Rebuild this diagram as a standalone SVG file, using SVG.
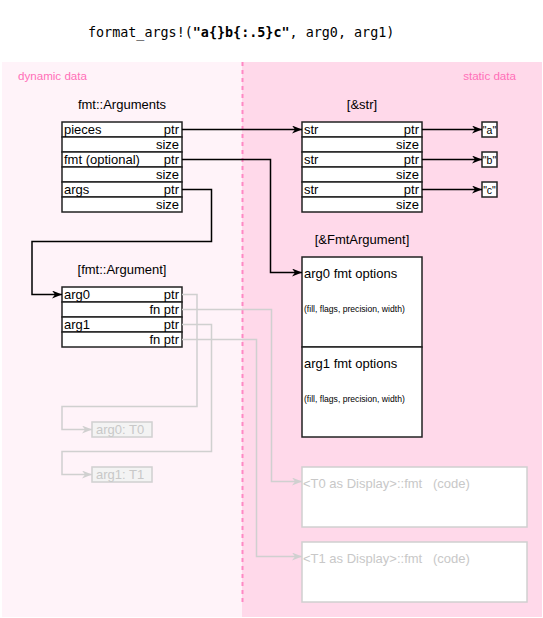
<svg xmlns="http://www.w3.org/2000/svg" width="543" height="618" viewBox="0 0 543 618">
<defs>
<style>
.t{font-family:"Liberation Sans",Arial,sans-serif;font-size:13px;fill:#000}
.r{text-anchor:end}
.c{text-anchor:middle}
.s{font-size:8.6px}
.q{font-size:10.5px}
.cell{fill:#fff;stroke:#222;stroke-width:1.5}
.g{font-family:"Liberation Sans",Arial,sans-serif;font-size:13px;fill:#c8c8c8}
.gbox{fill:#fff;stroke:#d0d0d0;stroke-width:1.5}
.gsm{fill:#f3f3f3;stroke:#d0d0d0;stroke-width:1.5}
.ln{fill:none;stroke:#000;stroke-width:1.5}
.gl{fill:none;stroke:#d0d0d0;stroke-width:1.5}
.mono{font-family:"DejaVu Sans Mono",monospace;font-size:13.4px;fill:#000}
.lab{font-family:"Liberation Sans",Arial,sans-serif;font-size:11.6px;fill:#ff6fb8}
</style>
<marker id="ab" markerUnits="userSpaceOnUse" markerWidth="12" markerHeight="10" refX="10" refY="4" orient="auto" viewBox="0 0 12 10"><path d="M0,0 L10,4 L0,8 L3,4 z" fill="#000"/></marker>
<marker id="ag" markerUnits="userSpaceOnUse" markerWidth="12" markerHeight="10" refX="10" refY="4" orient="auto" viewBox="0 0 12 10"><path d="M0,0 L10,4 L0,8 L3,4 z" fill="#d0d0d0"/></marker>
</defs>
<rect x="0" y="0" width="543" height="618" fill="#fff"/>
<g id="regions">
<rect x="2" y="62" width="240" height="555" fill="#fff3f9"/>
<rect x="242" y="62" width="300" height="555" fill="#ffd9ea"/>
<line x1="242.5" y1="62" x2="242.5" y2="603" stroke="#ff88c4" stroke-width="2" stroke-dasharray="4 4"/>
<text class="lab" x="18" y="80">dynamic data</text>
<text class="lab" x="516" y="80" text-anchor="end">static data</text>
</g>
<g id="title">
<text class="mono" x="88" y="37">format_args!(<tspan font-weight="bold">"a{}b{:.5}c"</tspan>, arg0, arg1)</text>
</g>
<g id="fmt-arguments">
<text class="t c" x="122" y="109">fmt::Arguments</text>
<rect class="cell" x="62" y="122" width="120" height="15"/>
<rect class="cell" x="62" y="137" width="120" height="15"/>
<rect class="cell" x="62" y="152" width="120" height="15"/>
<rect class="cell" x="62" y="167" width="120" height="15"/>
<rect class="cell" x="62" y="182" width="120" height="15"/>
<rect class="cell" x="62" y="197" width="120" height="15"/>
<text class="t" x="64" y="134">pieces</text><text class="t r" x="179" y="134">ptr</text>
<text class="t r" x="179" y="149">size</text>
<text class="t" x="64" y="164">fmt (optional)</text><text class="t r" x="179" y="164">ptr</text>
<text class="t r" x="179" y="179">size</text>
<text class="t" x="64" y="194">args</text><text class="t r" x="179" y="194">ptr</text>
<text class="t r" x="179" y="209">size</text>
</g>
<g id="str-slice">
<text class="t c" x="362" y="109">[&amp;str]</text>
<rect class="cell" x="302" y="122" width="120" height="15"/>
<rect class="cell" x="302" y="137" width="120" height="15"/>
<rect class="cell" x="302" y="152" width="120" height="15"/>
<rect class="cell" x="302" y="167" width="120" height="15"/>
<rect class="cell" x="302" y="182" width="120" height="15"/>
<rect class="cell" x="302" y="197" width="120" height="15"/>
<text class="t" x="304" y="134">str</text><text class="t r" x="419" y="134">ptr</text>
<text class="t r" x="419" y="149">size</text>
<text class="t" x="304" y="164">str</text><text class="t r" x="419" y="164">ptr</text>
<text class="t r" x="419" y="179">size</text>
<text class="t" x="304" y="194">str</text><text class="t r" x="419" y="194">ptr</text>
<text class="t r" x="419" y="209">size</text>
</g>
<g id="str-a"><rect class="cell" x="482" y="122" width="15" height="15"/><text class="t c q" x="489.5" y="133.5">"a"</text></g>
<g id="str-b"><rect class="cell" x="482" y="152" width="15" height="15"/><text class="t c q" x="489.5" y="163.5">"b"</text></g>
<g id="str-c"><rect class="cell" x="482" y="182" width="15" height="15"/><text class="t c q" x="489.5" y="193.5">"c"</text></g>
<g id="fmt-argument">
<text class="t c" x="122" y="274">[fmt::Argument]</text>
<rect class="cell" x="62" y="287" width="120" height="15"/>
<rect class="cell" x="62" y="302" width="120" height="15"/>
<rect class="cell" x="62" y="317" width="120" height="15"/>
<rect class="cell" x="62" y="332" width="120" height="15"/>
<text class="t" x="64" y="299">arg0</text><text class="t r" x="179" y="299">ptr</text>
<text class="t r" x="179" y="314">fn ptr</text>
<text class="t" x="64" y="329">arg1</text><text class="t r" x="179" y="329">ptr</text>
<text class="t r" x="179" y="344">fn ptr</text>
</g>
<g id="fmt-argument-static">
<text class="t c" x="362" y="244">[&amp;FmtArgument]</text>
<rect class="cell" x="302" y="257" width="120" height="90"/>
<rect class="cell" x="302" y="347" width="120" height="90"/>
<text class="t" x="304" y="278">arg0 fmt options</text>
<text class="t s" x="304" y="312">(fill, flags, precision, width)</text>
<text class="t" x="304" y="368">arg1 fmt options</text>
<text class="t s" x="304" y="402">(fill, flags, precision, width)</text>
</g>
<g id="arg0-t0"><rect class="gsm" x="92" y="422" width="60" height="15"/><text class="g" x="96" y="434">arg0: T0</text></g>
<g id="arg1-t1"><rect class="gsm" x="92" y="467" width="60" height="15"/><text class="g" x="96" y="479">arg1: T1</text></g>
<g id="t0-fmt"><rect class="gbox" x="302" y="467" width="225" height="60"/><text class="g" x="303" y="488" xml:space="preserve">&lt;T0 as Display&gt;::fmt   (code)</text></g>
<g id="t1-fmt"><rect class="gbox" x="302" y="542" width="225" height="60"/><text class="g" x="303" y="563" xml:space="preserve">&lt;T1 as Display&gt;::fmt   (code)</text></g>
<g id="connectors">
<path class="gl" d="M182,294.5 H197 V406.5 H62 V429.5 H92" marker-end="url(#ag)"/>
<path class="gl" d="M182,309.5 H271.5 V481.5 H302" marker-end="url(#ag)"/>
<path class="gl" d="M182,324.5 H211.5 V451.5 H62 V474.5 H92" marker-end="url(#ag)"/>
<path class="gl" d="M182,339.5 H256.5 V556.5 H302" marker-end="url(#ag)"/>
<path class="ln" d="M182,129.5 H302" marker-end="url(#ab)"/>
<path class="ln" d="M182,159.5 H270.5 V272.5 H302" marker-end="url(#ab)"/>
<path class="ln" d="M182,189.5 H211.5 V241.5 H32 V294.5 H62" marker-end="url(#ab)"/>
<path class="ln" d="M422,129.5 H482" marker-end="url(#ab)"/>
<path class="ln" d="M422,159.5 H482" marker-end="url(#ab)"/>
<path class="ln" d="M422,189.5 H482" marker-end="url(#ab)"/>
</g>
</svg>
